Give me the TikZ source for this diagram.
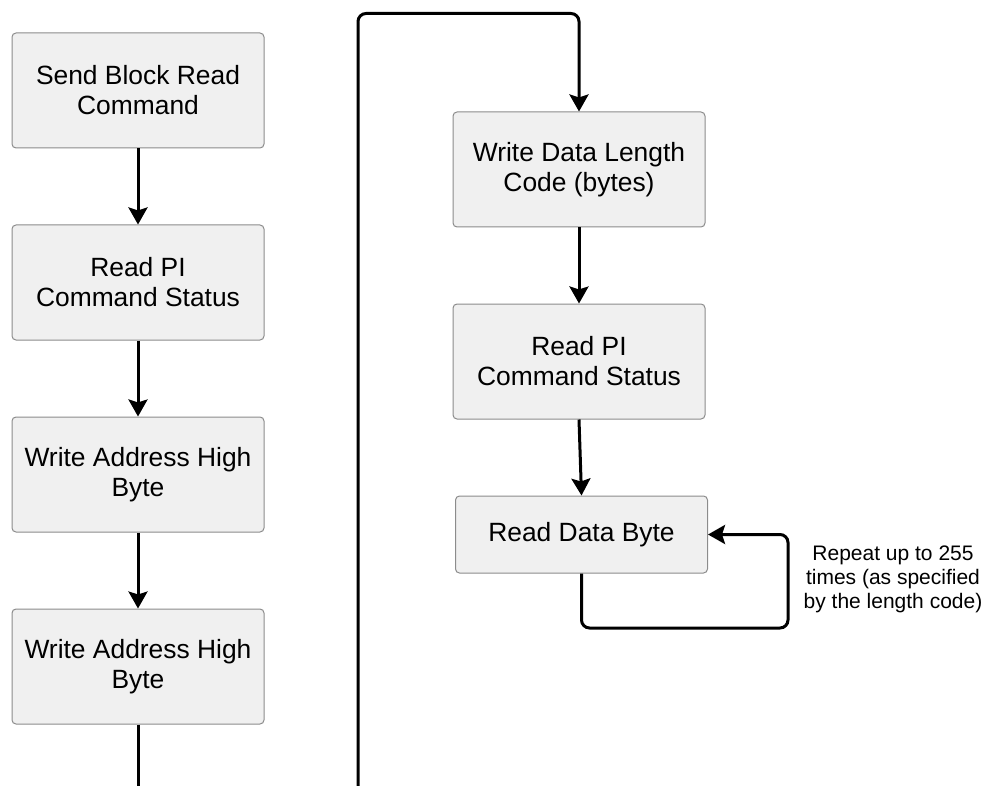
\documentclass[tikz,border=0pt]{standalone}
\usepackage{fontspec}
\setmainfont{Liberation Sans}
\usetikzlibrary{arrows.meta,positioning}

\begin{document}
\begin{tikzpicture}[
  x=1pt, y=-1pt,
  node distance=76pt,
  font=\fontsize{26.4}{30}\selectfont,
  line/.style={-{Stealth[length=17pt, width=19pt, inset=3pt]}, line width=3pt},
  wire/.style={line width=3pt, rounded corners=8pt},
  box/.style={rectangle, rounded corners=4pt, draw=black!45, line width=1pt, fill=black!6,
    align=center, minimum width=252pt, minimum height=115pt, inner sep=4pt},
  note/.style={align=center, font=\fontsize{21}{24}\selectfont}
]
\useasboundingbox (0,0) rectangle (987,786);

% Nodes (left column)
\node[box] at (138,90.5) (send) {Send Block Read\\Command};
\node[box, below=of send] (status1) {Read PI\\Command Status};
\node[box, below=of status1] (addr1) {Write Address High\\Byte};
\node[box, below=of addr1] (addr2) {Write Address High\\Byte};

% Nodes (right column)
\node[box] at (579,169.5) (length) {Write Data Length\\Code (bytes)};
\node[box, below=of length] (status2) {Read PI\\Command Status};
\node[box, minimum height=77pt, below=of status2, xshift=2.5pt] (data) {Read Data Byte};
\node[note] at (893,579) (repeat) {Repeat up to 255\\times (as specified\\by the length code)};

% Free ends and bends
\coordinate (leftend) at (138,786);
\coordinate (rightend) at (358,786);
\coordinate (topbend) at (358,13.5);
\coordinate (loopbend) at (788,628);

% Arrows (left column)
\draw[line] (send) -- (status1);
\draw[line] (status1) -- (addr1);
\draw[line] (addr1) -- (addr2);
\draw[wire] (addr2) -- (leftend);

% Arrows (right column)
\draw[line, rounded corners=8pt] (rightend) -- (topbend) -| (length.north);
\draw[line] (length) -- (status2);
\draw[line] (status2.south) -- (data.north);
\draw[line, rounded corners=8pt] (data.south) |- (loopbend) |- (data.east);

\end{tikzpicture}
\end{document}
